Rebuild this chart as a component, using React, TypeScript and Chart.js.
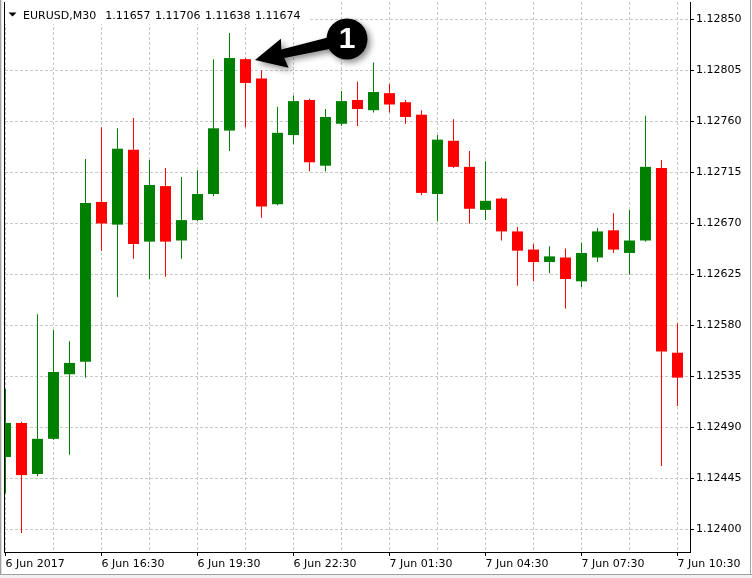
import { useEffect, useRef } from "react";
import { Chart, registerables } from "chart.js";

Chart.register(...registerables);

const FONT = '"DejaVu Sans"';
const UP = "#008000";
const DOWN = "#ff0000";
const GRID = "#c8c8c8";

// ---- data ----
const timeLabels = [
  "6 Jun 2017",
  "6 Jun 16:30",
  "6 Jun 19:30",
  "6 Jun 22:30",
  "7 Jun 01:30",
  "7 Jun 04:30",
  "7 Jun 07:30",
  "7 Jun 10:30",
];
const priceTicks = [
  1.124, 1.12445, 1.1249, 1.12535, 1.1258, 1.12625, 1.1267, 1.12715, 1.1276,
  1.12805, 1.1285,
];
const opens = [
  1.12464, 1.12494, 1.12449, 1.1248, 1.12537, 1.12548, 1.12689, 1.12669,
  1.12735, 1.12654, 1.12703, 1.12655, 1.12673, 1.12696, 1.12752, 1.12815,
  1.12798, 1.12687, 1.12748, 1.12779, 1.12721, 1.12758, 1.12779, 1.1277,
  1.12785, 1.12777, 1.12766, 1.12696, 1.12743, 1.1272, 1.12682, 1.12692,
  1.12663, 1.12647, 1.12636, 1.1264, 1.12619, 1.1264, 1.12664, 1.12644,
  1.12655, 1.12719, 1.12556,
];
const highs = [
  1.12524, 1.12495, 1.1259, 1.12576, 1.12566, 1.12727, 1.12755, 1.12754,
  1.12763, 1.12726, 1.12719, 1.12711, 1.12717, 1.12815, 1.12838, 1.12816,
  1.12805, 1.12773, 1.12783, 1.1278, 1.12771, 1.12787, 1.12795, 1.12812,
  1.12793, 1.12779, 1.1277, 1.12748, 1.12762, 1.12734, 1.12725, 1.12693,
  1.12667, 1.12652, 1.1265, 1.12648, 1.12653, 1.12666, 1.12679, 1.12682,
  1.12765, 1.12726, 1.12582,
];
const lows = [
  1.12432, 1.12397, 1.12447, 1.12479, 1.12466, 1.12534, 1.12646, 1.12605,
  1.12639, 1.12621, 1.12623, 1.12639, 1.12672, 1.12694, 1.12734, 1.12755,
  1.12675, 1.12686, 1.1274, 1.12716, 1.12716, 1.12756, 1.12756, 1.12768,
  1.12768, 1.12758, 1.12695, 1.12672, 1.12719, 1.1267, 1.12673, 1.12655,
  1.12615, 1.12619, 1.12626, 1.12595, 1.12614, 1.12636, 1.12644, 1.12625,
  1.12654, 1.12456, 1.12509,
];
const closes = [
  1.12494, 1.12448, 1.1248, 1.12539, 1.12547, 1.12688, 1.1267, 1.12736,
  1.12652, 1.12704, 1.12654, 1.12673, 1.12696, 1.12754, 1.12816, 1.12794,
  1.12685, 1.1275, 1.12778, 1.12724, 1.12764, 1.12778, 1.12771, 1.12786,
  1.12775, 1.12764, 1.12697, 1.12744, 1.1272, 1.12683, 1.1269, 1.12663,
  1.12646, 1.12636, 1.12641, 1.12621, 1.12644, 1.12663, 1.12647, 1.12655,
  1.1272, 1.12557, 1.12534,
];
const barIndex = opens.map((_, i) => i);
const headerSymbol = "EURUSD,M30";
const headerQuote = ["1.11657", "1.11706", "1.11638", "1.11674"];
const calloutText = "1";
const calloutBar = 15;

const framePlugin = {
  id: "mt4frame",
  beforeDraw(chart: any) {
    const c = chart.ctx;
    c.save();
    c.fillStyle = "#ffffff";
    c.fillRect(0, 0, chart.width, chart.height);
    c.restore();
  },
  afterDraw(chart: any) {
    const { ctx, chartArea: a, scales } = chart;
    const W = chart.width;
    const H = chart.height;
    ctx.save();
    // chart frame
    ctx.fillStyle = "#000";
    ctx.fillRect(a.left - 1, a.top, 1, a.bottom - a.top + 1);
    ctx.fillRect(a.left - 1, a.bottom, a.right - a.left + 2, 1);
    ctx.fillRect(a.right, a.top, 1, a.bottom - a.top + 1);
    // window edges
    ctx.fillStyle = "#a0a0a0";
    ctx.fillRect(0, 0, 1, H);
    ctx.fillStyle = "#e0e0e0";
    ctx.fillRect(1, 0, 1, H);
    ctx.fillStyle = "#f0f0f0";
    ctx.fillRect(0, H - 4, W, 4);
    ctx.fillStyle = "#a0a0a0";
    ctx.fillRect(0, H - 4, W, 1);
    ctx.fillRect(W - 2, 0, 1, H - 3);

    // header
    ctx.font = `11px ${FONT}`;
    const symW = ctx.measureText(headerSymbol).width;
    let x = 23 + symW + 9;
    const pos: number[] = [];
    headerQuote.forEach((q) => {
      pos.push(x);
      x += ctx.measureText(q).width + 4.5;
    });
    ctx.fillStyle = "#ffffff";
    ctx.fillRect(a.left, a.top, x + 4 - a.left, 22);
    ctx.fillStyle = "#000";
    ctx.beginPath();
    ctx.moveTo(8.5, 12.5);
    ctx.lineTo(16.5, 12.5);
    ctx.lineTo(12.5, 16.5);
    ctx.closePath();
    ctx.fill();
    ctx.fillStyle = "#000";
    ctx.textBaseline = "alphabetic";
    ctx.textAlign = "left";
    ctx.fillText(headerSymbol, 23, 19);
    headerQuote.forEach((q, i) => ctx.fillText(q, pos[i], 19));

    // callout anchored on the bar
    const tx = scales.x.getPixelForValue(calloutBar) + 9.5;
    const ty = scales.y.getPixelForValue(highs[calloutBar]) + 2;
    const cx = tx + 92;
    const cy = ty - 21;
    const ang = Math.atan2(cy - ty, cx - tx);
    ctx.save();
    ctx.shadowColor = "rgba(0,0,0,0.45)";
    ctx.shadowBlur = 6;
    ctx.shadowOffsetX = 3;
    ctx.shadowOffsetY = 3;
    ctx.fillStyle = "#000";
    ctx.beginPath();
    ctx.arc(cx, cy, 20.5, 0, Math.PI * 2);
    ctx.fill();
    ctx.translate(tx, ty);
    ctx.rotate(ang);
    ctx.beginPath();
    ctx.moveTo(0, 0);
    ctx.lineTo(30, -15);
    ctx.lineTo(28, -4.5);
    ctx.lineTo(80, -6);
    ctx.lineTo(80, 6);
    ctx.lineTo(29, 4.5);
    ctx.lineTo(31, 15);
    ctx.closePath();
    ctx.fill();
    ctx.restore();
    ctx.fillStyle = "#ffffff";
    ctx.font = `bold 30px "Liberation Sans"`;
    ctx.textAlign = "center";
    ctx.textBaseline = "middle";
    ctx.fillText(calloutText, cx, cy + 1);
    ctx.restore();
  },
};

export default function App() {
  const ref = useRef<HTMLCanvasElement>(null);
  useEffect(() => {
    document.body.style.margin = "0";
    const canvas = ref.current!;
    const bodies = barIndex.map((i) => ({
      x: i,
      y: [Math.min(opens[i], closes[i]), Math.max(opens[i], closes[i])],
    }));
    const wicks = barIndex.map((i) => ({ x: i, y: [lows[i], highs[i]] }));
    const colors = barIndex.map((i) => (closes[i] >= opens[i] ? UP : DOWN));
    const top = priceTicks[priceTicks.length - 1];
    const bottom = priceTicks[0];
    const k = (top - bottom) / 510;
    const yMax = top + 17.5 * k;
    const yMin = bottom - 22.5 * k;
    const font = { family: "DejaVu Sans", size: 11 };

    const chart = new Chart(canvas, {
      type: "bar",
      data: {
        datasets: [
          {
            data: bodies as any,
            backgroundColor: colors,
            barThickness: 11,
            grouped: false,
            borderWidth: 0,
            inflateAmount: 0,
          } as any,
          {
            data: wicks as any,
            backgroundColor: colors,
            barThickness: 1,
            grouped: false,
            borderWidth: 0,
            inflateAmount: 0,
          } as any,
        ],
      },
      options: {
        animation: false,
        responsive: false,
        events: [],
        layout: { padding: { top: 2, left: 5, right: 0, bottom: 0 } },
        plugins: { legend: { display: false }, tooltip: { enabled: false } },
        scales: {
          x: {
            type: "linear",
            min: -1 / 32,
            max: 42.78125,
            offset: false,
            afterBuildTicks: (s: any) => {
              s.ticks = barIndex
                .filter((i) => i % 3 === 0)
                .map((v) => ({ value: v }));
            },
            afterFit: (s: any) => {
              s.height = 26;
              s.paddingLeft = 0;
              s.paddingRight = 0;
            },
            grid: {
              color: GRID,
              offset: false,
              tickLength: 4,
              tickColor: (c: any) =>
                c.index % 2 === 0 ? "#000" : "rgba(0,0,0,0)",
              tickBorderDash: [],
              borderDash: [3, 2],
            } as any,
            border: { display: false, dash: [3, 2] },
            ticks: {
              autoSkip: false,
              maxRotation: 0,
              minRotation: 0,
              align: "start",
              padding: 2,
              color: "#000",
              font,
              callback: (v: any) =>
                Number(v) % 6 === 0 ? timeLabels[Number(v) / 6] : "",
            },
          },
          y: {
            type: "linear",
            position: "right",
            min: yMin,
            max: yMax,
            afterBuildTicks: (s: any) => {
              s.ticks = priceTicks.map((v) => ({ value: v }));
            },
            afterFit: (s: any) => {
              s.width = 62;
              s.paddingTop = 0;
              s.paddingBottom = 0;
            },
            grid: {
              color: GRID,
              tickLength: 4,
              tickColor: "#000",
              tickBorderDash: [],
              borderDash: [3, 2],
            } as any,
            border: { display: false, dash: [3, 2] },
            ticks: {
              padding: 2,
              color: "#000",
              font,
              callback: (v: any) => Number(v).toFixed(5),
            },
          },
        },
      },
      plugins: [framePlugin],
    });
    return () => chart.destroy();
  }, []);
  return (
    <canvas
      ref={ref}
      width={752}
      height={578}
      style={{ display: "block", width: 752, height: 578 }}
    />
  );
}
